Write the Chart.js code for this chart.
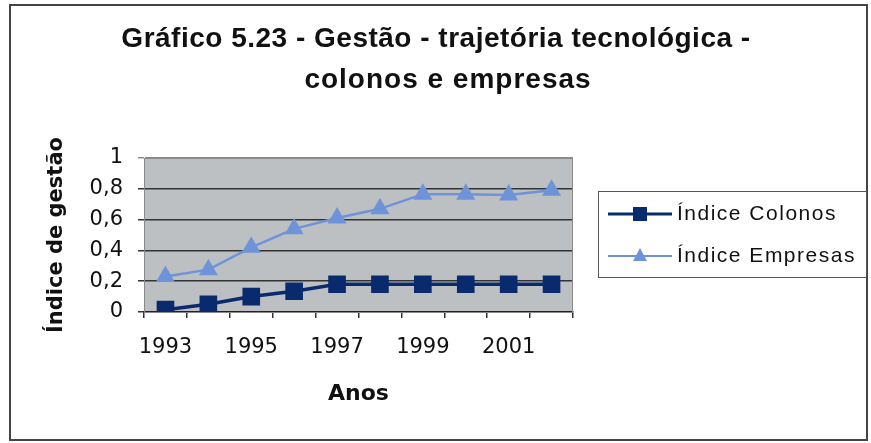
<!DOCTYPE html>
<html>
<head>
<meta charset="utf-8">
<script src="https://cdn.jsdelivr.net/npm/chart.js@4.4.1/dist/chart.umd.min.js"></script>
<style>
html,body{margin:0;padding:0;background:#fff;}
#wrap{width:871px;height:443px;position:relative;}
</style>
</head>
<body>
<div id="wrap"><canvas id="c" width="871" height="443"></canvas></div>
<script>
const categories = ['1993','1994','1995','1996','1997','1998','1999','2000','2001','2002'];
const colonos  = [0.015, 0.05, 0.10, 0.135, 0.18, 0.18, 0.18, 0.18, 0.18, 0.18];
const empresas = [0.23, 0.275, 0.42, 0.54, 0.61, 0.67, 0.765, 0.765, 0.76, 0.79];
const seriesNames = ['Índice Colonos', 'Índice Empresas'];
const titleLines = ['Gráfico 5.23 - Gestão - trajetória tecnológica -', 'colonos e empresas'];
const xTitle = 'Anos';
const yTitle = 'Índice de gestão';

const FONT = "'Liberation Sans', Arial, sans-serif";
const WFONT = "'DejaVu Sans', sans-serif";
const COL_DARK = '#0a2a6e';
const COL_LIGHT = '#6f93d8';

const decor = {
  id: 'decor',
  beforeDraw(chart) {
    const {ctx, chartArea: a} = chart;
    ctx.save();
    ctx.fillStyle = '#fff';
    ctx.fillRect(0, 0, chart.width, chart.height);
    ctx.fillStyle = '#bdc0c3';
    ctx.fillRect(a.left, a.top, a.right - a.left, a.bottom - a.top);
    ctx.restore();
  },
  afterDraw(chart) {
    const {ctx, chartArea: a} = chart;
    ctx.save();
    // plot border
    ctx.strokeStyle = '#8a8a8a';
    ctx.lineWidth = 1;
    ctx.strokeRect(a.left + 0.5, a.top + 0.5, a.right - a.left - 1, a.bottom - a.top);
    // outer border
    ctx.strokeStyle = '#444';
    ctx.lineWidth = 2;
    ctx.strokeRect(10, 5, 857, 435);
    // title
    ctx.fillStyle = '#111';
    ctx.font = 'bold 28px ' + FONT;
    ctx.letterSpacing = '0.5px';
    ctx.textAlign = 'center';
    ctx.textBaseline = 'alphabetic';
    ctx.fillText(titleLines[0], 436, 47);
    ctx.letterSpacing = '1px';
    ctx.fillText(titleLines[1], 448, 88);
    // legend
    ctx.strokeStyle = '#555';
    ctx.lineWidth = 1;
    ctx.strokeRect(598.5, 191.5, 268, 86);
    const rows = [214, 256];
    chart.data.datasets.forEach((ds, i) => {
      const y = rows[i];
      ctx.strokeStyle = ds.borderColor;
      ctx.lineWidth = i === 0 ? 3 : 2;
      ctx.beginPath(); ctx.moveTo(608, y); ctx.lineTo(672, y); ctx.stroke();
      ctx.fillStyle = ds.backgroundColor;
      if (i === 0) {
        ctx.fillRect(633, y - 7, 14, 14);
      } else {
        ctx.beginPath(); ctx.moveTo(640, y - 8); ctx.lineTo(647, y + 5); ctx.lineTo(633, y + 5); ctx.closePath(); ctx.fill();
      }
      ctx.fillStyle = '#111';
      ctx.font = '21px ' + FONT;
      ctx.letterSpacing = '1.5px';
      ctx.textAlign = 'left';
      ctx.textBaseline = 'middle';
      ctx.fillText(ds.label, 677, y);
    });
    ctx.letterSpacing = '0px';
    ctx.restore();
  }
};

new Chart(document.getElementById('c'), {
  type: 'line',
  data: {
    labels: categories,
    datasets: [
      {label: seriesNames[0], data: colonos, borderColor: COL_DARK, backgroundColor: COL_DARK,
       borderWidth: 3.5, pointStyle: 'rect', pointRadius: 10, pointHoverRadius: 10, tension: 0},
      {label: seriesNames[1], data: empresas, borderColor: COL_LIGHT, backgroundColor: COL_LIGHT,
       borderWidth: 2.5, pointStyle: 'triangle', pointRadius: 8.5, pointHoverRadius: 8.5, tension: 0}
    ]
  },
  options: {
    responsive: false,
    animation: false,
    devicePixelRatio: 1,
    layout: {padding: {left: 0, top: 158, right: 298, bottom: 0}},
    plugins: {legend: {display: false}, title: {display: false}, tooltip: {enabled: false}},
    scales: {
      x: {
        type: 'category',
        offset: true,
        afterFit(s) { s.height = 131; },
        grid: {offset: true, drawOnChartArea: false, drawTicks: true, tickLength: 6, color: '#333', lineWidth: 1.5},
        border: {display: true, color: '#222', width: 1.5},
        ticks: {
          autoSkip: false, maxRotation: 0, padding: 17, color: '#111',
          font: {family: WFONT, size: 21},
          callback(v, i) { return i % 2 === 0 ? this.getLabelForValue(v) : ''; }
        },
        title: {display: true, text: xTitle, color: '#111', font: {family: WFONT, size: 22, weight: 'bold'}, padding: {top: 0, bottom: 36}}
      },
      y: {
        min: 0, max: 1,
        afterFit(s) { s.width = 144; },
        grid: {drawTicks: true, tickLength: 6, lineWidth: 1.5,
               color: (c) => (c.tick && c.tick.value === 1) ? '#8a8a8a' : '#333'},
        border: {display: true, color: '#8a8a8a', width: 1},
        ticks: {
          stepSize: 0.2, padding: 15, color: '#111',
          font: {family: WFONT, size: 21},
          callback(v) { return (v === 0 || v === 1) ? String(v) : v.toFixed(1).replace('.', ','); }
        },
        title: {display: true, text: yTitle, color: '#111', font: {family: WFONT, size: 21, weight: 'bold'}, padding: {top: 44, bottom: 0}}
      }
    }
  },
  plugins: [decor]
});
</script>
</body>
</html>
